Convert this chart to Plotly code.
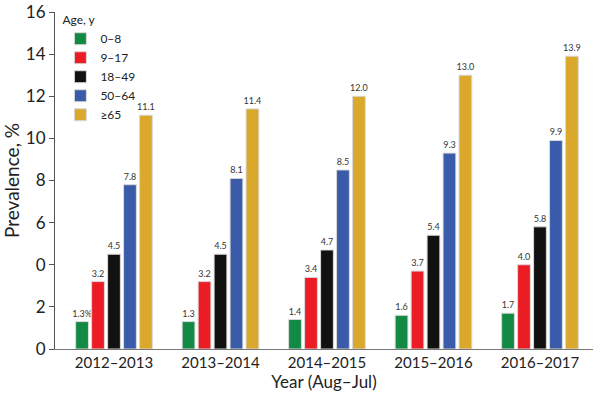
import plotly.graph_objects as go

years = ["2012–2013", "2013–2014", "2014–2015", "2015–2016", "2016–2017"]
age_groups = ["0–8", "9–17", "18–49", "50–64", "≥65"]
v_0_8 = [1.3, 1.3, 1.4, 1.6, 1.7]
v_9_17 = [3.2, 3.2, 3.4, 3.7, 4.0]
v_18_49 = [4.5, 4.5, 4.7, 5.4, 5.8]
v_50_64 = [7.8, 8.1, 8.5, 9.3, 9.9]
v_65 = [11.1, 11.4, 12.0, 13.0, 13.9]
label_0_8 = ["1.3%", "1.3", "1.4", "1.6", "1.7"]
y_tickvals = [0, 2, 4, 6, 8, 10, 12, 14, 16]
y_ticktext = ["0", "2", "0", "6", "8", "10", "12", "14", "16"]

series = [v_0_8, v_9_17, v_18_49, v_50_64, v_65]
colors = ["#138A43", "#EC1C24", "#111111", "#3A5BAA", "#DAA92B"]

fig = go.Figure()
for i, (name, vals, col) in enumerate(zip(age_groups, series, colors)):
    texts = label_0_8 if i == 0 else [f"{v:.1f}" for v in vals]
    fig.add_trace(go.Bar(
        x=years, y=vals, name=name,
        marker=dict(color=col, line=dict(color="#D9D9D9", width=1)),
        text=texts, textposition="outside", cliponaxis=False,
        constraintext="none",
        textfont=dict(size=9, color="#333333", family="Lato"),
    ))

fig.update_layout(
    width=600, height=408,
    margin=dict(l=55, r=7, t=12, b=59, autoexpand=False),
    plot_bgcolor="white", paper_bgcolor="white",
    barmode="group", bargap=0.25, bargroupgap=0.2,
    font=dict(family="Lato", color="#222222"),
    legend=dict(
        title=dict(text="Age, y", font=dict(size=12)),
        x=0.01, y=1.01, xanchor="left", yanchor="top",
        font=dict(size=12), itemwidth=30, tracegroupgap=0,
        bgcolor="rgba(0,0,0,0)",
    ),
    yaxis=dict(
        range=[0, 16], tickvals=y_tickvals, ticktext=y_ticktext,
        showline=True, linecolor="#555555", linewidth=1,
        ticks="outside", ticklen=5, tickcolor="#555555",
        showgrid=False, zeroline=False, automargin=False,
        ticklabeloverflow="allow",
        tickfont=dict(size=17),
        title=dict(text="Prevalence, %", font=dict(size=19), standoff=2),
    ),
    xaxis=dict(
        range=[-0.554, 4.498],
        showline=True, linecolor="#777777", linewidth=1,
        ticks="", showgrid=False, automargin=False,
        tickfont=dict(size=15),
        title=dict(text="Year (Aug–Jul)", font=dict(size=17), standoff=4),
    ),
)

fig.write_html("out.html", config={"displayModeBar": False},
               post_script="document.body.style.margin='0';")
